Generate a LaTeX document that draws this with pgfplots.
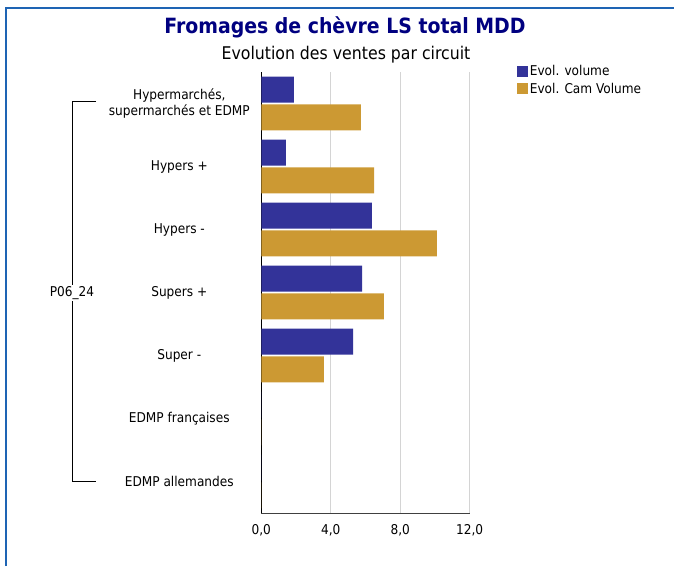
\documentclass[border=0pt]{standalone}
\usepackage{pgfplots}
\pgfplotsset{compat=1.18}
\usepackage{fontspec}
\setmainfont{DejaVu Sans Condensed}
\definecolor{barblue}{HTML}{333399}
\definecolor{bargold}{HTML}{CC9933}
\definecolor{titleblue}{HTML}{000080}
\definecolor{frameblue}{HTML}{1E64B4}
\definecolor{gridgray}{HTML}{D4D4D4}
\begin{document}
\begin{tikzpicture}
\path[use as bounding box] (0pt,0pt) rectangle (674pt,566pt);
\draw[frameblue, line width=2pt] (6pt,0pt) -- (6pt,557.5pt) -- (674pt,557.5pt);
\node[titleblue, font=\fontsize{21}{24}\selectfont\bfseries] at (345pt,539pt) {Fromages de chèvre LS total MDD};
\node[font=\fontsize{17.5}{20}\selectfont] at (346pt,511pt) {Evolution des ventes par circuit};
% bracket
\draw[black, line width=0.8pt] (96pt,465pt) -- (72pt,465pt) -- (72pt,85pt) -- (96pt,85pt);
\node[fill=white, inner sep=1pt, font=\fontsize{13.5}{16}\selectfont] at (72pt,273pt) {P06\_24};
\begin{axis}[
  at={(261.3pt,53pt)}, anchor=south west,
  scale only axis, width=208.4pt, height=441pt,
  xbar, bar width=0.41,
  xmin=0, xmax=12, ymin=-0.5, ymax=6.5,
  y dir=reverse,
  axis x line*=bottom, axis y line*=left,
  x axis line style={draw=black!75, line width=0.8pt},
  y axis line style={draw=black, line width=1pt},
  xtick={0,4,8,12},
  ytick={0,1,2,3,4,5,6},
  yticklabels={{Hypermarchés,\\supermarchés et EDMP},{Hypers +},{Hypers -},{Supers +},{Super -},{EDMP françaises},{EDMP allemandes}},
  major tick length=0pt,
  xmajorgrids, ymajorgrids=false,
  major grid style={gridgray, line width=1pt},
  /pgf/number format/assume math mode=true,
  xticklabel={\pgfmathprintnumber[fixed,fixed zerofill,precision=1,use comma]{\tick}},
  tick label style={font=\fontsize{13.5}{16}\selectfont},
  x tick label style={yshift=-8pt},
  y tick label style={align=center, anchor=center, xshift=-82pt},
  legend style={draw=none, fill=none, at={(rel axis cs:1.211,1.025)}, anchor=north west,
    font=\fontsize{13.5}{16}\selectfont, row sep=2pt, cells={anchor=west}},
  legend image code/.code={\fill[#1] (-4pt,-5.5pt) rectangle (7pt,5.5pt);},
]
\addplot[fill=barblue, draw=none, bar shift=-0.22] coordinates {
 (1.88,0) (1.42,1) (6.37,2) (5.80,3) (5.28,4) (0,5) (0,6)};
\addplot[fill=bargold, draw=none, bar shift=0.22] coordinates {
 (5.74,0) (6.49,1) (10.11,2) (7.06,3) (3.61,4) (0,5) (0,6)};
\legend{Evol. volume, Evol. Cam Volume}
\end{axis}
\end{tikzpicture}
\end{document}
